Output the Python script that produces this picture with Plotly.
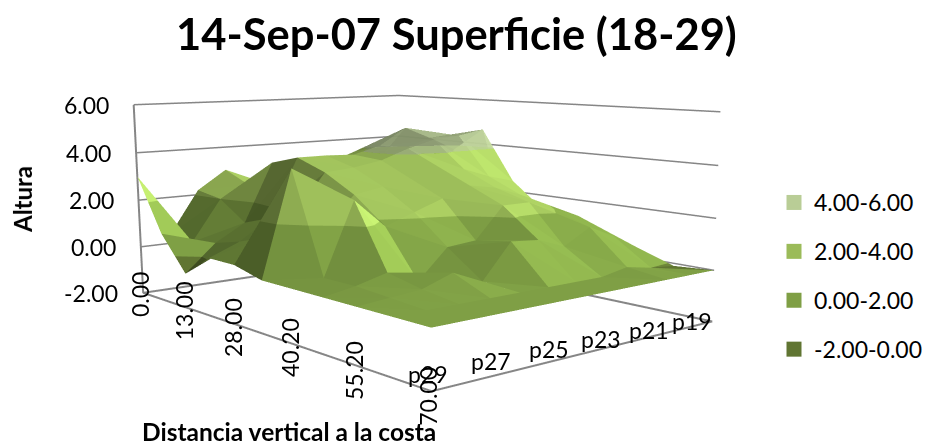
import numpy as np
import plotly.graph_objects as go

distances = ["0.00","6.00","13.00","20.00","28.00","34.00","40.20","48.00","55.20","63.00","70.00"]
series = ["p29","p28","p27","p26","p25","p24","p23","p22","p21","p20","p19"]
altura = [
 [3.0,0.8,-0.6,0.3,0.3,0.0,0.0,0.0,0.0,0.0,0.0],
 [0.4,0.3,0.5,0.8,1.2,4.0,0.2,0.2,0.1,0.0,0.0],
 [2.2,2.0,1.2,1.6,2.0,1.6,2.9,0.5,0.2,0.0,0.0],
 [3.0,2.5,3.6,3.95,3.5,2.8,1.8,0.0,0.6,0.0,0.0],
 [2.0,2.3,3.6,3.95,3.6,3.0,2.2,1.1,0.1,0.0,0.0],
 [1.9,2.6,3.4,3.9,3.8,3.2,2.6,1.2,1.4,0.0,0.0],
 [2.4,2.8,3.8,4.2,4.2,3.6,3.0,2.4,1.3,0.0,0.0],
 [2.2,2.6,3.4,4.9,4.5,3.4,2.8,2.4,0.9,0.0,0.0],
 [1.6,2.0,2.8,4.4,4.6,3.0,2.4,2.0,1.5,0.2,0.0],
 [0.8,1.2,1.8,3.8,4.8,2.7,1.6,1.6,1.0,0.0,0.0],
 [0.0,0.0,0.2,0.5,1.0,0.5,0.2,0.2,0.4,-0.1,0.0],
]
bands = [(4,6,"4.00-6.00",(185,205,150)),(2,4,"2.00-4.00",(155,187,89)),(0,2,"0.00-2.00",(127,159,69)),(-2,0,"-2.00-0.00",(96,117,50))]
z_ticks = [-2,0,2,4,6]

E=[1.878,-1.505,0.332];C=[-0.478,0.56,-0.244];A=[1.0,0.725,0.414]
HT=970;SH=224
def py2paper(v): return 1-(v+SH)/HT

X=np.arange(11.);Y=np.arange(11.);Z=np.array(altura)
def clip(poly,lo,hi):
    def cut(P,level,keep_above):
        out=[]
        for i in range(len(P)):
            a,b=np.array(P[i]),np.array(P[(i+1)%len(P)])
            ina=(a[2]>=level) if keep_above else (a[2]<=level)
            inb=(b[2]>=level) if keep_above else (b[2]<=level)
            if ina: out.append(a)
            if ina!=inb:
                s=(level-a[2])/(b[2]-a[2]);out.append(a+s*(b-a))
        return out
    P=cut(poly,lo,True)
    if P: P=cut(P,hi,False)
    return P
tris=[]
for s in range(10):
    for d in range(10):
        v=lambda dd,ss:(X[dd],Y[ss],Z[ss][dd])
        tris.append((v(d,s),v(d+1,s),v(d+1,s+1)))
        tris.append((v(d,s),v(d+1,s+1),v(d,s+1)))
scale=np.array([A[0]/10,A[1]/10,A[2]/8])
light=np.array([.75,.66,0.])
fig=go.Figure()
for lo,hi,name,base in bands:
    xs,ys,zs,I,J_,K,fc=[],[],[],[],[],[],[]
    for T in tris:
        if min(q[2] for q in T)>=hi: continue
        a,b,c=[np.array(q)*scale for q in T]
        n=np.cross(b-a,c-a);n=n/np.linalg.norm(n)
        l=n@light
        f=1+.4*l if l>0 else max(.48,1+.7*l)
        if lo==4: f*=.85
        col="rgb(%d,%d,%d)"%tuple(min(255,int(ch*f)) for ch in base)
        P=clip([np.array(q,float) for q in T],lo,hi)
        if len(P)<3: continue
        i0=len(xs)
        for q in P: xs.append(q[0]);ys.append(q[1]);zs.append(q[2])
        for k in range(1,len(P)-1):
            I.append(i0);J_.append(i0+k);K.append(i0+k+1);fc.append(col)
    if xs:
        fig.add_trace(go.Mesh3d(x=xs,y=ys,z=zs,i=I,j=J_,k=K,facecolor=fc,flatshading=True,showlegend=False,
            opacity=0.8 if lo==4 else 1,hoverinfo="skip",
            lighting=dict(ambient=1,diffuse=0,specular=0,roughness=1,fresnel=0)))
    fig.add_trace(go.Scatter3d(x=[None],y=[None],z=[None],mode="markers",name=name,legendgroup=name,
        marker=dict(symbol="square",size=15,color="rgb(%d,%d,%d)"%base)))
ex=[0,10,10,0,0,0];ey=[0,0,10,10,0,0];ez=[-2,-2,-2,-2,-2,6]
fig.add_trace(go.Scatter3d(x=ex,y=ey,z=ez,mode="lines",line=dict(color="#868686",width=4),showlegend=False,hoverinfo="skip"))
fnt="Lato"
tf=dict(size=23,color="#000",family=fnt)
ann=[]
for z in z_ticks:
    ann.append(dict(x=0,y=0,z=z,text="%.2f"%z,showarrow=False,xanchor="right",xshift=-23,font=tf))
for d,l in enumerate(distances):
    if d%2==0:
        ann.append(dict(x=d,y=0,z=-2,text=l,showarrow=False,textangle=-90,yanchor="middle",xshift=-3,yshift=-2-0.3*d,font=tf))
for s,l in enumerate(series):
    if s%2==0:
        ann.append(dict(x=10,y=s,z=-2,text=l,showarrow=False,yanchor="middle",xshift=-4-1.6*s,yshift=17-1.7*s,font=tf))
ax=dict(showbackground=False,showticklabels=False,showspikes=False,title="",zeroline=False,showline=False,ticks="")
bf=dict(size=24,family=fnt,color="#000")
fig.update_layout(width=927,height=HT,margin=dict(l=0,r=0,t=0,b=0),paper_bgcolor="white",
 scene=dict(domain=dict(x=[0,1],y=[0,1]),aspectmode="manual",aspectratio=dict(x=A[0],y=A[1],z=A[2]),
   camera=dict(eye=dict(x=E[0],y=E[1],z=E[2]),center=dict(x=C[0],y=C[1],z=C[2]),up=dict(x=0,y=0,z=1),projection=dict(type="perspective")),
   xaxis=dict(ax,showgrid=False,range=[0,10]),yaxis=dict(ax,showgrid=False,range=[0,10]),
   zaxis=dict(ax,showgrid=True,gridcolor="#868686",gridwidth=3,range=[-2,6],tickvals=z_ticks),annotations=ann),
 legend=dict(x=.837,y=py2paper(181),xanchor="left",yanchor="top",tracegroupgap=16,font=dict(size=23,family=fnt,color="#000")),
 annotations=[
   dict(text="<b>14-Sep-07 Superficie (18-29)</b>",x=457/927,y=py2paper(33),xref="paper",yref="paper",xanchor="center",yanchor="middle",showarrow=False,font=dict(size=43.5,family=fnt,color="#000")),
   dict(text="<b>Altura</b>",x=22/927,y=py2paper(199),xref="paper",yref="paper",xanchor="center",yanchor="middle",showarrow=False,textangle=-90,font=bf),
   dict(text="<b>Distancia vertical a la costa</b>",x=290/927,y=py2paper(431),xref="paper",yref="paper",xanchor="center",yanchor="middle",showarrow=False,font=dict(size=24.5,family=fnt,color="#000"))])
fig.write_html("out.html",post_script="var g=document.getElementById('{plot_id}');g.style.marginTop='-%dpx';document.documentElement.style.overflow='hidden';document.body.style.overflow='hidden';document.body.style.margin='0';"%SH)
